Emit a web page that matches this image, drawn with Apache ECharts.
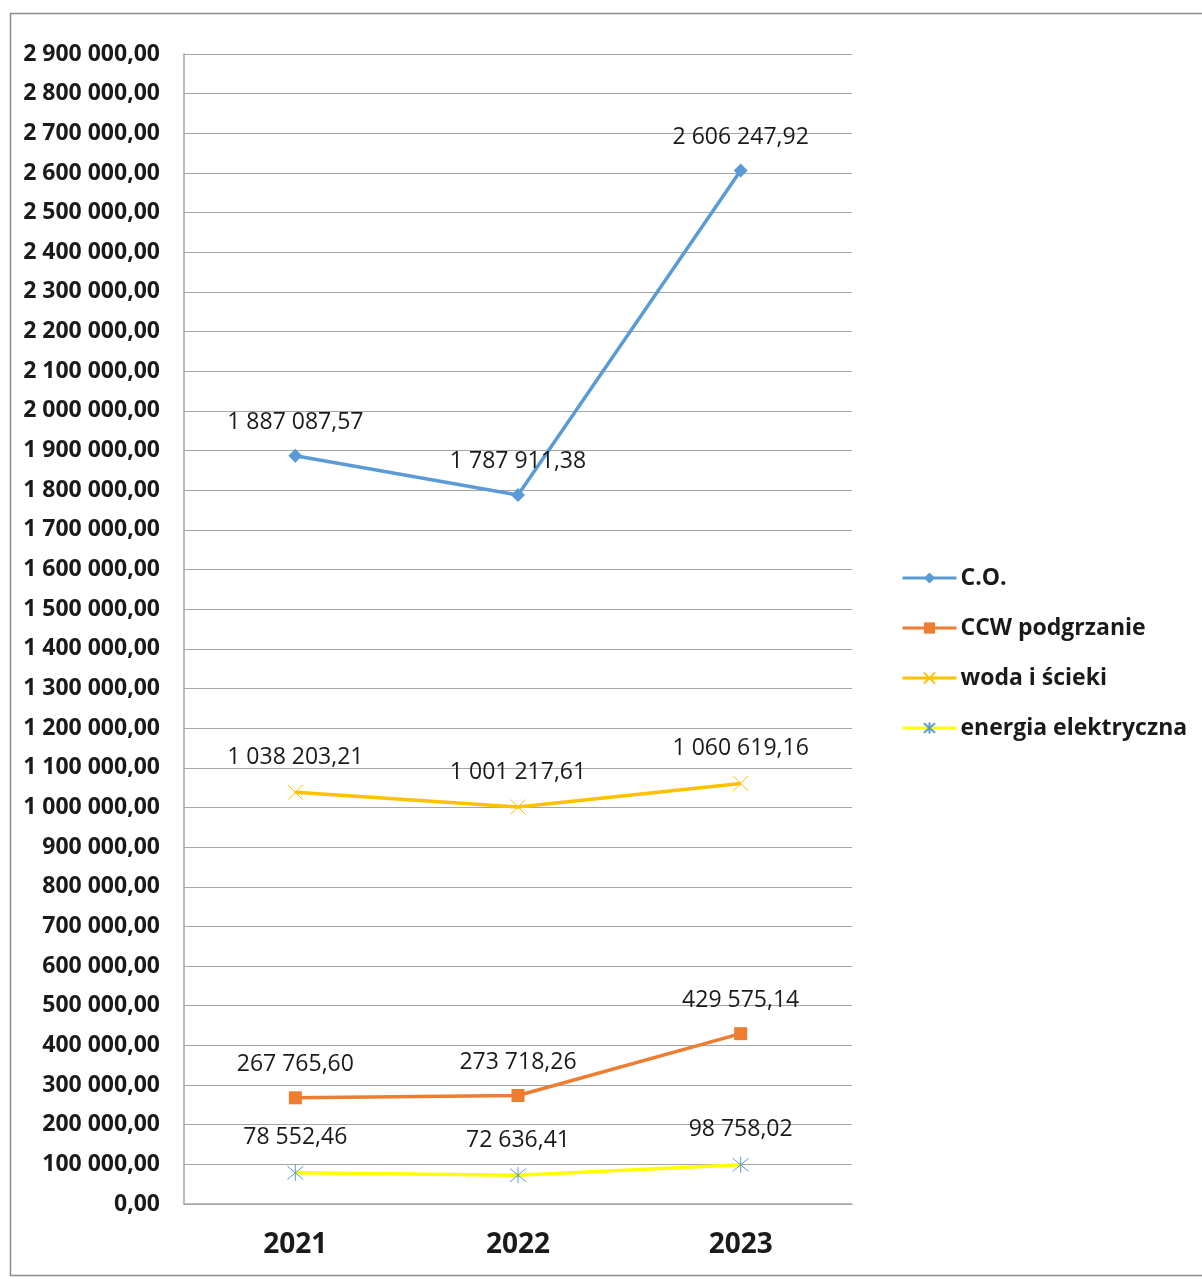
<!DOCTYPE html>
<html><head><meta charset="utf-8">
<script src="https://cdn.jsdelivr.net/npm/echarts@6/dist/echarts.min.js"></script>
<style>html,body{margin:0;padding:0;background:#fff}#c{width:1202px;height:1279px}</style>
</head><body><div id="c"></div>
<script>
const categories = ['2021', '2022', '2023'];
const seriesNames = ['C.O.', 'CCW podgrzanie', 'woda i ścieki', 'energia elektryczna'];
const coValues = [1887087.57, 1787911.38, 2606247.92];
const ccwValues = [267765.60, 273718.26, 429575.14];
const wodaValues = [1038203.21, 1001217.61, 1060619.16];
const energiaValues = [78552.46, 72636.41, 98758.02];

function fmt(v){
  const s = v.toFixed(2);
  const [i, d] = s.split('.');
  return i.replace(/\B(?=(\d{3})+(?!\d))/g, ' ') + ',' + d;
}
const FONT = '"Open Sans", "Noto Sans", sans-serif';
const labelCfg = {show:true, position:'top', distance:15, fontFamily:FONT, fontSize:23, color:'#1a1a1a', formatter:p=>fmt(p.value)};
const xPath = 'path://M0,0 L10,10 M10,0 L0,10';
const starPath = 'path://M0,0 L10,10 M10,0 L0,10 M5,-1 L5,11';
const colors = ['#5B9BD5', '#ED7D31', '#FFC000', '#FFFF00'];

const chart = echarts.init(document.getElementById('c'));
chart.setOption({
  animation:false,
  backgroundColor:'#fff',
  graphic:[{type:'rect', shape:{x:10.5,y:13.5,width:1300,height:1262}, style:{fill:'none', stroke:'#8c8c8c', lineWidth:1.5}, silent:true}],
  grid:{left:184, right:350, top:54, bottom:75},
  legend:{
    orient:'vertical', left:896, top:560, itemGap:24, itemWidth:54, itemHeight:14,
    textStyle:{fontFamily:FONT, fontSize:23, fontWeight:'bold', color:'#1a1a1a', lineHeight:26, padding:[0,0,0,-1]},
    data:seriesNames.map((n,i)=>({name:n, lineStyle:{width:3, color:colors[i]}}))
  },
  xAxis:{
    type:'category', data:categories, boundaryGap:true,
    axisLine:{lineStyle:{color:'#a6a6a6', width:1.5}}, axisTick:{show:false},
    axisLabel:{fontFamily:FONT, fontSize:28, fontWeight:'bold', color:'#1a1a1a', margin:27}
  },
  yAxis:{
    type:'value', min:0, max:2900000, interval:100000,
    axisLine:{show:true, lineStyle:{color:'#a6a6a6', width:1.5}}, axisTick:{show:false},
    splitLine:{lineStyle:{color:'#a6a6a6', width:1.2}},
    axisLabel:{fontFamily:FONT, fontSize:23, fontWeight:'bold', color:'#1a1a1a', margin:24, formatter:v=>fmt(v)}
  },
  series:[
    {name:seriesNames[0], type:'line', data:coValues, symbol:'diamond', symbolSize:14,
     lineStyle:{color:colors[0], width:3.5}, itemStyle:{color:colors[0]}, label:labelCfg},
    {name:seriesNames[1], type:'line', data:ccwValues, symbol:'rect', symbolSize:13,
     lineStyle:{color:colors[1], width:3.5}, itemStyle:{color:colors[1]}, label:labelCfg},
    {name:seriesNames[2], type:'line', data:wodaValues, symbol:xPath, symbolSize:15,
     lineStyle:{color:colors[2], width:3.5}, itemStyle:{color:colors[2], borderColor:colors[2], borderWidth:1}, label:labelCfg},
    {name:seriesNames[3], type:'line', data:energiaValues, symbol:starPath, symbolSize:16,
     lineStyle:{color:colors[3], width:3.5}, itemStyle:{color:'#5B9BD5', borderColor:'#5B9BD5', borderWidth:1}, label:labelCfg}
  ]
});
</script></body></html>
